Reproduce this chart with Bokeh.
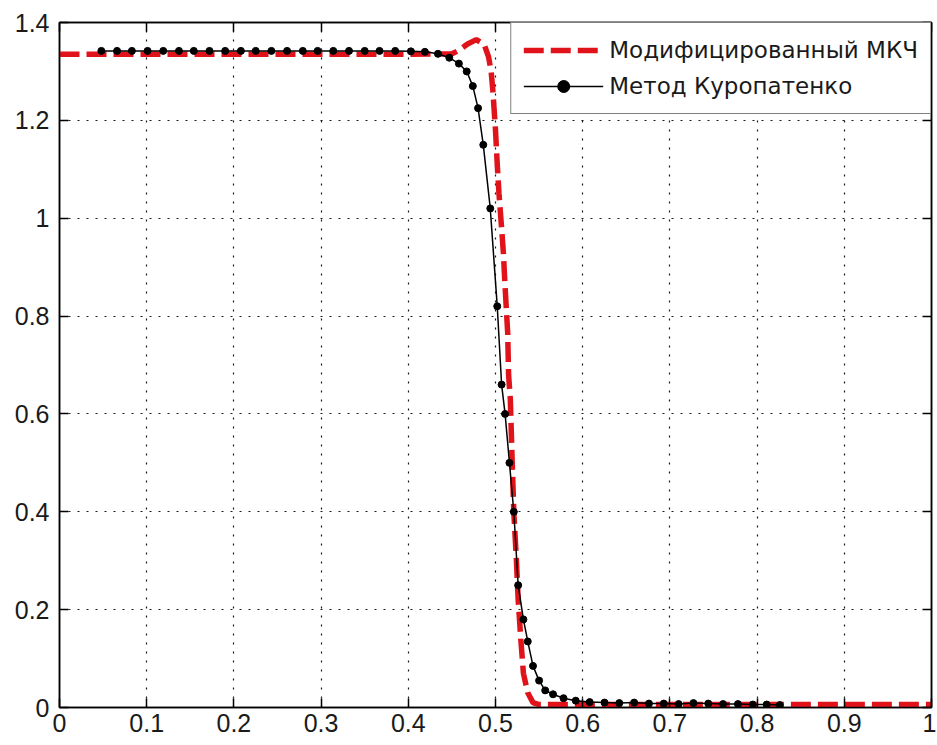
from bokeh.plotting import figure
from bokeh.models import Range1d, FixedTicker, LinearAxis, Legend, LegendItem
from bokeh.embed import file_html
from bokeh.resources import INLINE

# ---- data ----
mkch_x = [0.0, 0.10, 0.20, 0.30, 0.40, 0.450, 0.458, 0.468, 0.478, 0.487, 0.492,
          0.495, 0.497, 0.500, 0.502, 0.504, 0.507, 0.509, 0.511, 0.514, 0.515,
          0.517, 0.519, 0.521, 0.524, 0.526, 0.529, 0.532, 0.537, 0.543, 0.550, 1.0]
mkch_y = [1.335, 1.335, 1.335, 1.335, 1.335, 1.336, 1.343, 1.356, 1.365, 1.355, 1.330,
          1.300, 1.260, 1.180, 1.110, 1.050, 0.980, 0.930, 0.860, 0.765, 0.680,
          0.630, 0.510, 0.400, 0.300, 0.220, 0.140, 0.070, 0.030, 0.010, 0.006, 0.006]

kur_x = [0.048, 0.066, 0.083, 0.101, 0.119, 0.137, 0.154, 0.172, 0.190, 0.208,
         0.225, 0.243, 0.261, 0.279, 0.296, 0.314, 0.332, 0.350, 0.367, 0.385,
         0.403, 0.419, 0.434, 0.447, 0.458, 0.467, 0.474, 0.480, 0.486, 0.494,
         0.502, 0.507, 0.511, 0.516, 0.521, 0.526, 0.532, 0.537, 0.543, 0.550,
         0.557, 0.566, 0.578, 0.592, 0.608, 0.625, 0.642, 0.659, 0.676, 0.693,
         0.710, 0.727, 0.744, 0.761, 0.778, 0.795, 0.811, 0.826]
kur_y = [1.342, 1.342, 1.342, 1.342, 1.342, 1.342, 1.342, 1.342, 1.342, 1.342,
         1.342, 1.342, 1.342, 1.342, 1.342, 1.342, 1.342, 1.342, 1.342, 1.342,
         1.341, 1.340, 1.336, 1.328, 1.316, 1.300, 1.270, 1.225, 1.150, 1.020,
         0.820, 0.660, 0.600, 0.500, 0.400, 0.250, 0.180, 0.135, 0.085, 0.055,
         0.035, 0.027, 0.019, 0.014, 0.011, 0.010, 0.009, 0.010, 0.008, 0.008,
         0.007, 0.009, 0.008, 0.007, 0.007, 0.006, 0.006, 0.005]

x_ticks = [0, 0.1, 0.2, 0.3, 0.4, 0.5, 0.6, 0.7, 0.8, 0.9, 1]
x_tick_labels = ["0", "0.1", "0.2", "0.3", "0.4", "0.5", "0.6", "0.7", "0.8", "0.9", "1"]
y_ticks = [0, 0.2, 0.4, 0.6, 0.8, 1, 1.2, 1.4]
y_tick_labels = ["0", "0.2", "0.4", "0.6", "0.8", "1", "1.2", "1.4"]

label_mkch = "Модифицированный МКЧ"
label_kur = "Метод Куропатенко"

# ---- figure ----
p = figure(width=936, height=744, x_range=Range1d(0, 1), y_range=Range1d(0, 1.4),
           output_backend="svg", toolbar_location=None,
           min_border_left=59, min_border_right=5, min_border_top=22, min_border_bottom=37)
p.background_fill_color = "white"
p.border_fill_color = "white"
p.outline_line_color = "black"
p.outline_line_width = 1.5

TICK_FONT = "Liberation Sans"

def style_axis(ax, ticks, labels, show_labels=True):
    ax.ticker = FixedTicker(ticks=ticks)
    ax.major_label_overrides = dict(zip(ticks, labels))
    ax.axis_line_color = "black"
    ax.axis_line_width = 1.5
    ax.major_tick_line_color = "black"
    ax.major_tick_line_width = 1.5
    ax.major_tick_in = 9
    ax.major_tick_out = 0
    ax.minor_tick_line_color = None
    ax.major_label_text_font = TICK_FONT
    if show_labels:
        ax.major_label_text_font_size = "25px"
        ax.major_label_text_color = "#1a1a1a"
    else:
        # mirrored frame ticks only (MATLAB "box on"), no labels drawn
        ax.major_label_text_font_size = "6px"
        ax.major_label_text_color = None
        ax.major_label_standoff = 0

style_axis(p.xaxis[0], x_ticks, x_tick_labels)
p.xaxis[0].major_label_standoff = 6
style_axis(p.yaxis[0], y_ticks, y_tick_labels)
p.yaxis[0].major_label_standoff = 10

top_ax = LinearAxis()
style_axis(top_ax, x_ticks, x_tick_labels, show_labels=False)
p.add_layout(top_ax, "above")
right_ax = LinearAxis()
style_axis(right_ax, y_ticks, y_tick_labels, show_labels=False)
p.add_layout(right_ax, "right")

for g, ticks in ((p.xgrid[0], x_ticks), (p.ygrid[0], y_ticks)):
    g.ticker = FixedTicker(ticks=ticks)
    g.grid_line_color = "black"
    g.grid_line_width = 1.2
    g.grid_line_dash = "2 7"
    g.grid_line_alpha = 0.9

r_red = p.line(mkch_x, mkch_y, line_color="#e0131a", line_width=5.5, line_dash="20 7")
r_kl = p.line(kur_x, kur_y, line_color="black", line_width=1.5)
r_km = p.scatter(kur_x, kur_y, marker="circle", size=7, fill_color="black", line_color="black")

legend = Legend(items=[LegendItem(label=label_mkch, renderers=[r_red]),
                       LegendItem(label=label_kur, renderers=[r_kl, r_km])],
                location="top_right")
legend.margin = 0
legend.padding = 12
legend.spacing = 6
legend.glyph_width = 80
legend.glyph_height = 30
legend.label_height = 30
legend.label_standoff = 6
legend.label_text_font = "DejaVu Sans"
legend.label_text_font_size = "23px"
legend.label_text_color = "#1a1a1a"
legend.border_line_color = "black"
legend.border_line_width = 1.5
legend.background_fill_color = "white"
legend.background_fill_alpha = 1.0
p.add_layout(legend)

open("out.html", "w").write(file_html(p, INLINE))
